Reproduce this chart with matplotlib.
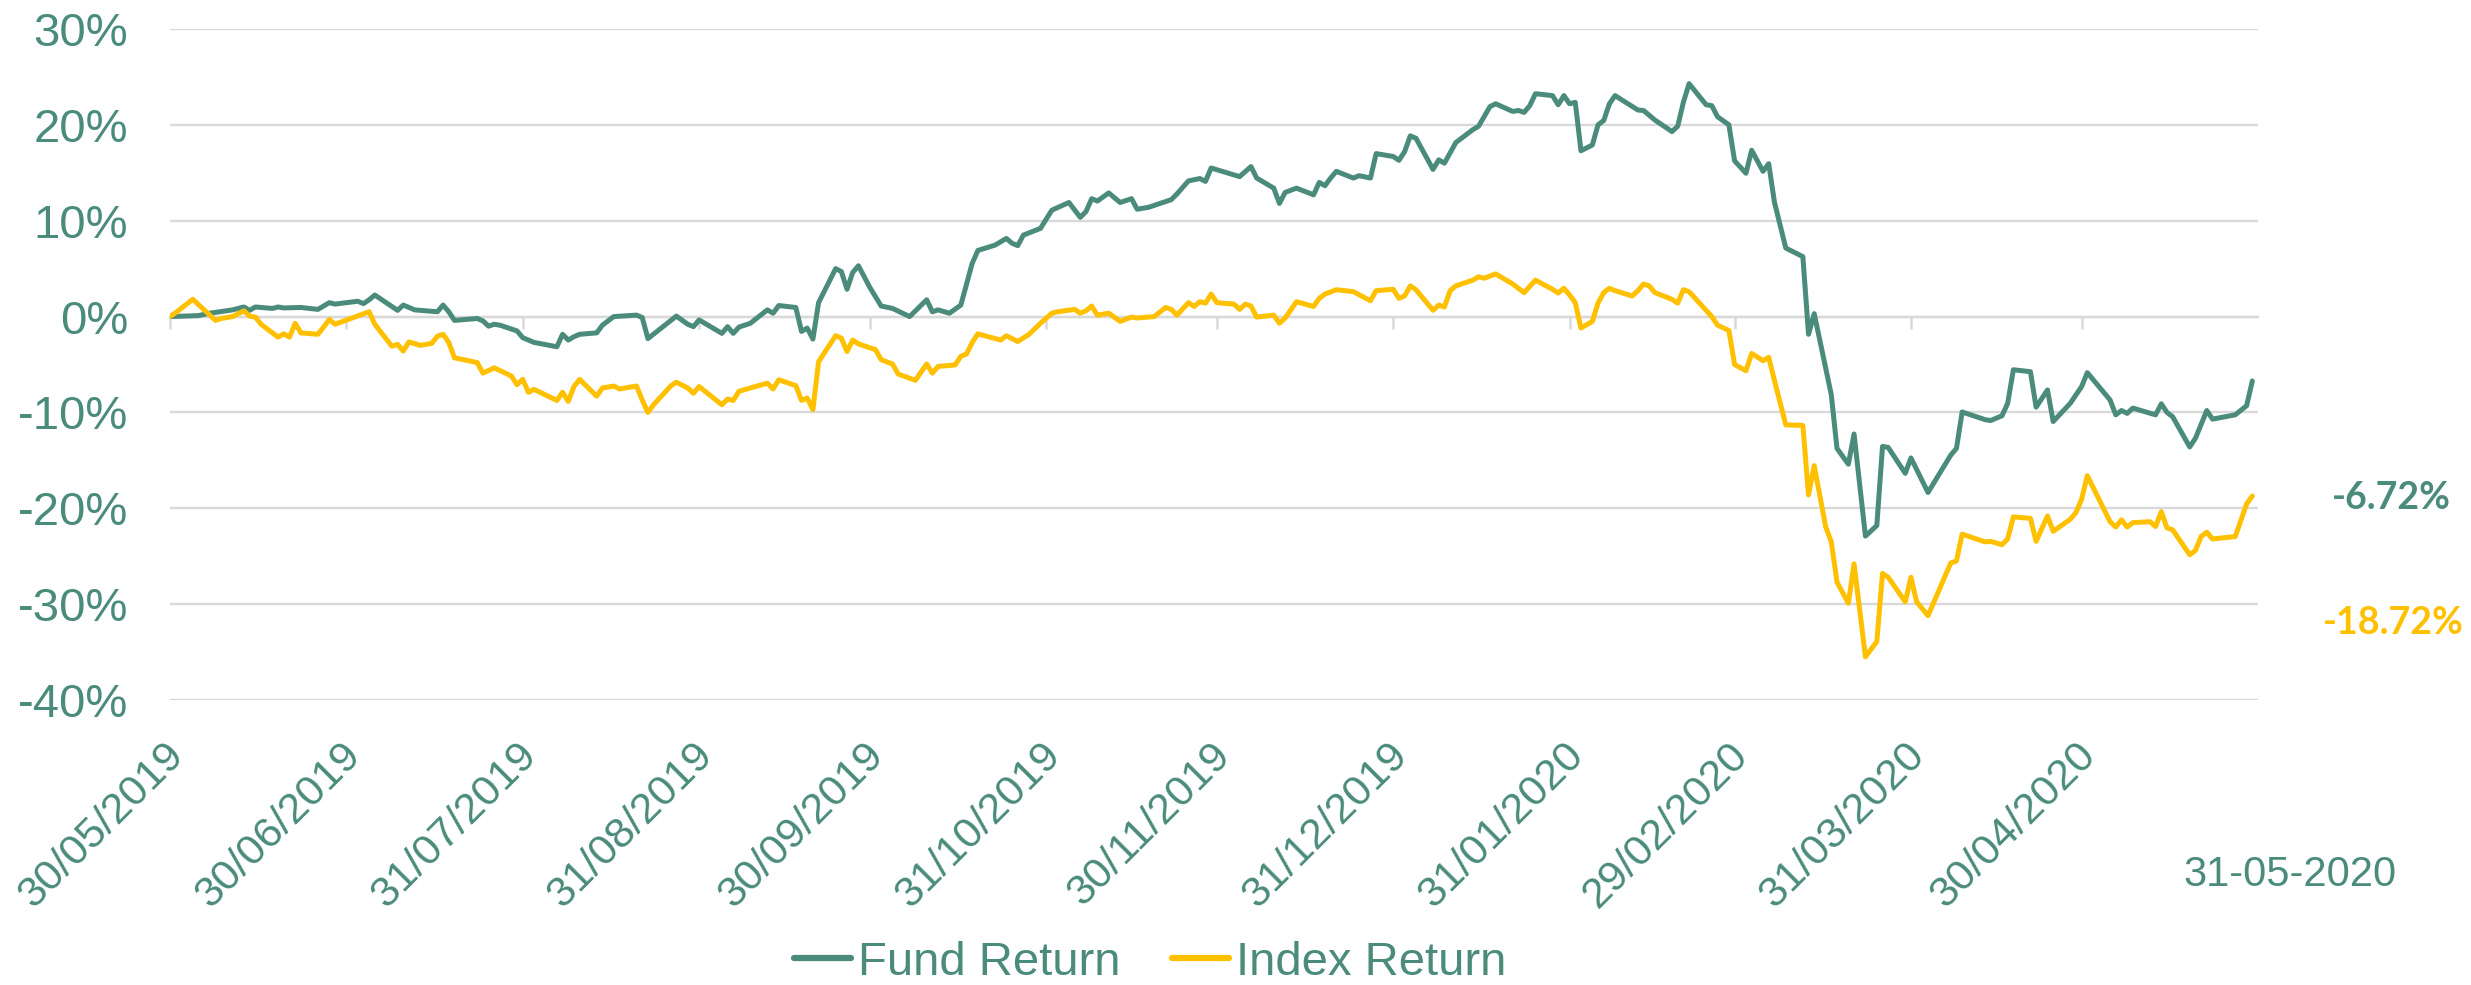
import matplotlib
matplotlib.use("Agg")
import matplotlib.pyplot as plt
import matplotlib.dates as mdates
import matplotlib.transforms as mtransforms
import pandas as pd

# ---------------- data ----------------
fund_dates = [
    "2019-05-30", "2019-06-04", "2019-06-06", "2019-06-10", "2019-06-12", "2019-06-13", "2019-06-14",
    "2019-06-17", "2019-06-18", "2019-06-19", "2019-06-22", "2019-06-25", "2019-06-27", "2019-06-28",
    "2019-07-02", "2019-07-03", "2019-07-04", "2019-07-05", "2019-07-09", "2019-07-10", "2019-07-12",
    "2019-07-16", "2019-07-17", "2019-07-18", "2019-07-19", "2019-07-23", "2019-07-24", "2019-07-25",
    "2019-07-26", "2019-07-27", "2019-07-30", "2019-07-31", "2019-08-02", "2019-08-06", "2019-08-07",
    "2019-08-08", "2019-08-09", "2019-08-10", "2019-08-13", "2019-08-14", "2019-08-16", "2019-08-20",
    "2019-08-21", "2019-08-22", "2019-08-27", "2019-08-29", "2019-08-30", "2019-08-31", "2019-09-04",
    "2019-09-05", "2019-09-06", "2019-09-07", "2019-09-09", "2019-09-12", "2019-09-13", "2019-09-14",
    "2019-09-17", "2019-09-18", "2019-09-19", "2019-09-20", "2019-09-21", "2019-09-24", "2019-09-25",
    "2019-09-26", "2019-09-27", "2019-09-28", "2019-09-30", "2019-10-02", "2019-10-04", "2019-10-07",
    "2019-10-10", "2019-10-11", "2019-10-12", "2019-10-14", "2019-10-16", "2019-10-18", "2019-10-19",
    "2019-10-22", "2019-10-24", "2019-10-25", "2019-10-26", "2019-10-27", "2019-10-30", "2019-11-01",
    "2019-11-04", "2019-11-06", "2019-11-07", "2019-11-08", "2019-11-09", "2019-11-11", "2019-11-13",
    "2019-11-15", "2019-11-16", "2019-11-18", "2019-11-20", "2019-11-22", "2019-11-23", "2019-11-25",
    "2019-11-27", "2019-11-28", "2019-11-29", "2019-12-04", "2019-12-06", "2019-12-07", "2019-12-10",
    "2019-12-11", "2019-12-12", "2019-12-14", "2019-12-17", "2019-12-18", "2019-12-19", "2019-12-20",
    "2019-12-21", "2019-12-24", "2019-12-25", "2019-12-27", "2019-12-28", "2019-12-31", "2020-01-01",
    "2020-01-02", "2020-01-03", "2020-01-04", "2020-01-07", "2020-01-08", "2020-01-09", "2020-01-11",
    "2020-01-14", "2020-01-15", "2020-01-17", "2020-01-18", "2020-01-21", "2020-01-22", "2020-01-23",
    "2020-01-24", "2020-01-25", "2020-01-28", "2020-01-29", "2020-01-30", "2020-01-31", "2020-02-01",
    "2020-02-02", "2020-02-04", "2020-02-05", "2020-02-06", "2020-02-07", "2020-02-08", "2020-02-12",
    "2020-02-13", "2020-02-15", "2020-02-18", "2020-02-19", "2020-02-20", "2020-02-21", "2020-02-24",
    "2020-02-25", "2020-02-26", "2020-02-28", "2020-02-29", "2020-03-02", "2020-03-03", "2020-03-05",
    "2020-03-06", "2020-03-07", "2020-03-09", "2020-03-12", "2020-03-13", "2020-03-14", "2020-03-17",
    "2020-03-18", "2020-03-20", "2020-03-21", "2020-03-23", "2020-03-25", "2020-03-26", "2020-03-27",
    "2020-03-30", "2020-03-31", "2020-04-03", "2020-04-07", "2020-04-08", "2020-04-09", "2020-04-13",
    "2020-04-14", "2020-04-16", "2020-04-17", "2020-04-18", "2020-04-21", "2020-04-22", "2020-04-24",
    "2020-04-25", "2020-04-28", "2020-04-30", "2020-05-01", "2020-05-05", "2020-05-06", "2020-05-07",
    "2020-05-08", "2020-05-09", "2020-05-13", "2020-05-14", "2020-05-15", "2020-05-16", "2020-05-19",
    "2020-05-20", "2020-05-22", "2020-05-23", "2020-05-27", "2020-05-29", "2020-05-30",
]
fund_values = [
    0.0, 0.1, 0.35, 0.7, 1.0, 0.65, 1.0,
    0.85, 1.0, 0.9, 0.95, 0.75, 1.45, 1.3,
    1.6, 1.35, 1.75, 2.25, 0.65, 1.2, 0.7,
    0.5, 1.2, 0.5, -0.4, -0.2, -0.45, -1.0,
    -0.8, -0.9, -1.5, -2.2, -2.7, -3.15, -1.85,
    -2.45, -2.1, -1.85, -1.7, -0.9, 0.0, 0.15,
    -0.1, -2.3, 0.05, -0.8, -1.05, -0.35, -1.75,
    -1.05, -1.75, -1.1, -0.7, 0.7, 0.35, 1.15,
    0.95, -1.55, -1.2, -2.35, 1.45, 5.0, 4.7,
    2.85, 4.6, 5.3, 3.05, 1.1, 0.85, 0.0,
    1.75, 0.5, 0.7, 0.35, 1.2, 5.55, 6.9,
    7.45, 8.15, 7.65, 7.4, 8.5, 9.2, 11.1,
    11.9, 10.35, 10.95, 12.3, 12.05, 12.9, 11.9,
    12.3, 11.2, 11.4, 11.8, 12.2, 12.8, 14.15,
    14.4, 14.1, 15.5, 14.6, 15.65, 14.45, 13.4,
    11.8, 12.95, 13.4, 12.7, 14.0, 13.65, 14.45,
    15.15, 14.45, 14.7, 14.45, 17.0, 16.7, 16.3,
    17.2, 18.85, 18.6, 15.35, 16.35, 16.0, 18.15,
    19.5, 19.85, 21.9, 22.2, 21.4, 21.5, 21.3,
    22.0, 23.25, 23.05, 22.1, 23.05, 22.2, 22.35,
    17.3, 17.9, 20.0, 20.45, 22.2, 23.05, 21.55,
    21.5, 20.5, 19.3, 19.85, 22.35, 24.3, 22.1,
    22.0, 20.85, 20.0, 16.25, 14.95, 17.35, 15.15,
    15.95, 11.95, 7.15, 6.25, -1.85, 0.3, -8.15,
    -13.75, -15.4, -12.25, -22.9, -21.8, -13.55, -13.65,
    -16.35, -14.75, -18.35, -14.45, -13.75, -9.95, -10.75,
    -10.85, -10.35, -9.05, -5.55, -5.75, -9.45, -7.65,
    -10.95, -9.05, -7.3, -5.85, -8.7, -10.25, -9.8,
    -10.1, -9.55, -10.25, -9.1, -10.0, -10.45, -13.6,
    -12.7, -9.8, -10.7, -10.25, -9.3, -6.72,
]

index_dates = [
    "2019-05-30", "2019-05-31", "2019-06-03", "2019-06-07", "2019-06-08", "2019-06-10", "2019-06-12",
    "2019-06-13", "2019-06-14", "2019-06-15", "2019-06-18", "2019-06-19", "2019-06-20", "2019-06-21",
    "2019-06-22", "2019-06-25", "2019-06-26", "2019-06-27", "2019-06-28", "2019-07-04", "2019-07-05",
    "2019-07-08", "2019-07-09", "2019-07-10", "2019-07-11", "2019-07-13", "2019-07-15", "2019-07-16",
    "2019-07-17", "2019-07-18", "2019-07-19", "2019-07-23", "2019-07-24", "2019-07-26", "2019-07-29",
    "2019-07-30", "2019-07-31", "2019-08-01", "2019-08-02", "2019-08-06", "2019-08-07", "2019-08-08",
    "2019-08-09", "2019-08-10", "2019-08-13", "2019-08-14", "2019-08-16", "2019-08-17", "2019-08-20",
    "2019-08-21", "2019-08-22", "2019-08-23", "2019-08-26", "2019-08-27", "2019-08-29", "2019-08-30",
    "2019-08-31", "2019-09-04", "2019-09-05", "2019-09-06", "2019-09-07", "2019-09-09", "2019-09-12",
    "2019-09-13", "2019-09-14", "2019-09-17", "2019-09-18", "2019-09-19", "2019-09-20", "2019-09-21",
    "2019-09-24", "2019-09-25", "2019-09-26", "2019-09-27", "2019-09-28", "2019-10-01", "2019-10-02",
    "2019-10-04", "2019-10-05", "2019-10-08", "2019-10-10", "2019-10-11", "2019-10-12", "2019-10-15",
    "2019-10-16", "2019-10-17", "2019-10-18", "2019-10-19", "2019-10-23", "2019-10-24", "2019-10-26",
    "2019-10-28", "2019-10-30", "2019-11-01", "2019-11-02", "2019-11-05", "2019-11-06", "2019-11-07",
    "2019-11-08", "2019-11-09", "2019-11-11", "2019-11-13", "2019-11-15", "2019-11-16", "2019-11-19",
    "2019-11-21", "2019-11-22", "2019-11-23", "2019-11-25", "2019-11-26", "2019-11-27", "2019-11-28",
    "2019-11-29", "2019-11-30", "2019-12-03", "2019-12-04", "2019-12-05", "2019-12-06", "2019-12-07",
    "2019-12-10", "2019-12-11", "2019-12-12", "2019-12-14", "2019-12-17", "2019-12-18", "2019-12-19",
    "2019-12-21", "2019-12-24", "2019-12-27", "2019-12-28", "2019-12-31", "2020-01-01", "2020-01-02",
    "2020-01-03", "2020-01-04", "2020-01-07", "2020-01-08", "2020-01-09", "2020-01-10", "2020-01-11",
    "2020-01-14", "2020-01-15", "2020-01-16", "2020-01-18", "2020-01-21", "2020-01-23", "2020-01-25",
    "2020-01-28", "2020-01-29", "2020-01-30", "2020-01-31", "2020-02-01", "2020-02-02", "2020-02-04",
    "2020-02-05", "2020-02-06", "2020-02-07", "2020-02-08", "2020-02-11", "2020-02-12", "2020-02-13",
    "2020-02-14", "2020-02-15", "2020-02-18", "2020-02-19", "2020-02-20", "2020-02-21", "2020-02-24",
    "2020-02-25", "2020-02-26", "2020-02-28", "2020-02-29", "2020-03-02", "2020-03-03", "2020-03-05",
    "2020-03-06", "2020-03-07", "2020-03-09", "2020-03-12", "2020-03-13", "2020-03-14", "2020-03-16",
    "2020-03-17", "2020-03-18", "2020-03-20", "2020-03-21", "2020-03-23", "2020-03-25", "2020-03-26",
    "2020-03-27", "2020-03-30", "2020-03-31", "2020-04-01", "2020-04-03", "2020-04-07", "2020-04-08",
    "2020-04-09", "2020-04-13", "2020-04-14", "2020-04-16", "2020-04-17", "2020-04-18", "2020-04-21",
    "2020-04-22", "2020-04-24", "2020-04-25", "2020-04-28", "2020-04-29", "2020-04-30", "2020-05-01",
    "2020-05-05", "2020-05-06", "2020-05-07", "2020-05-08", "2020-05-09", "2020-05-12", "2020-05-13",
    "2020-05-14", "2020-05-15", "2020-05-16", "2020-05-19", "2020-05-20", "2020-05-21", "2020-05-22",
    "2020-05-23", "2020-05-27", "2020-05-29", "2020-05-30",
]
index_values = [
    0.0, 0.4, 1.8, -0.4, -0.2, 0.0, 0.6,
    0.05, -0.05, -0.8, -2.15, -1.8, -2.15, -0.7,
    -1.7, -1.85, -1.1, -0.3, -0.8, 0.5, -0.8,
    -3.1, -2.9, -3.6, -2.65, -3.0, -2.8, -2.05,
    -1.85, -2.7, -4.3, -4.8, -5.9, -5.35, -6.2,
    -7.1, -6.55, -7.9, -7.6, -8.75, -7.9, -8.85,
    -7.3, -6.55, -8.3, -7.45, -7.25, -7.55, -7.25,
    -8.7, -10.0, -9.2, -7.25, -6.85, -7.45, -8.0,
    -7.3, -9.2, -8.6, -8.75, -7.8, -7.45, -6.95,
    -7.55, -6.6, -7.2, -8.75, -8.5, -9.7, -4.7,
    -2.0, -2.25, -3.65, -2.45, -2.85, -3.45, -4.5,
    -4.95, -6.0, -6.65, -4.95, -5.9, -5.2, -5.05,
    -4.15, -3.9, -2.7, -1.8, -2.45, -2.0, -2.6,
    -1.85, -0.7, 0.35, 0.5, 0.75, 0.35, 0.6,
    1.1, 0.15, 0.35, -0.5, -0.05, -0.15, 0.0,
    0.95, 0.75, 0.15, 1.45, 1.05, 1.55, 1.4,
    2.35, 1.45, 1.3, 0.75, 1.3, 1.1, -0.05,
    0.15, -0.7, -0.15, 1.55, 1.05, 1.9, 2.35,
    2.8, 2.6, 1.65, 2.7, 2.85, 1.9, 2.15,
    3.2, 2.8, 0.65, 1.2, 1.0, 2.7, 3.2,
    3.8, 4.15, 4.0, 4.45, 3.4, 2.5, 3.8,
    2.85, 2.45, 2.95, 2.25, 1.45, -1.2, -0.5,
    1.4, 2.5, 2.95, 2.7, 2.15, 2.7, 3.4,
    3.2, 2.5, 1.8, 1.4, 2.8, 2.6, 0.65,
    0.0, -0.9, -1.45, -5.0, -5.65, -3.85, -4.6,
    -4.25, -6.65, -11.3, -11.35, -18.6, -15.55, -21.9,
    -23.5, -27.7, -29.9, -25.8, -35.5, -33.9, -26.8,
    -27.2, -29.75, -27.2, -29.75, -31.2, -25.7, -25.5,
    -22.7, -23.5, -23.45, -23.8, -23.2, -20.9, -21.05,
    -23.45, -20.8, -22.4, -21.15, -20.45, -19.05, -16.6,
    -21.4, -21.95, -21.2, -21.95, -21.5, -21.4, -21.9,
    -20.35, -22.05, -22.25, -24.85, -24.4, -22.95, -22.5,
    -23.2, -22.95, -19.55, -18.72,
]

tick_dates = ["2019-05-30", "2019-06-30", "2019-07-31", "2019-08-31", "2019-09-30", "2019-10-31",
              "2019-11-30", "2019-12-31", "2020-01-31", "2020-02-29", "2020-03-31", "2020-04-30"]
tick_labels = ["30/05/2019", "30/06/2019", "31/07/2019", "31/08/2019", "30/09/2019", "31/10/2019",
               "30/11/2019", "31/12/2019", "31/01/2020", "29/02/2020", "31/03/2020", "30/04/2020"]
y_ticks = [-40, -30, -20, -10, 0, 10, 20, 30]
x_start, x_end = "2019-05-30", "2020-05-31"
end_date_label = "31-05-2020"
fund_final_label = "-6.72%"
index_final_label = "-18.72%"
series_names = ["Fund Return", "Index Return"]

# ---------------- style ----------------
TEAL = "#4A8B7B"
GOLD = "#FFC000"
GRID = "#D9D9D9"
FONT = ["Liberation Sans", "DejaVu Sans"]
plt.rcParams["font.family"] = FONT

W, H = 2471, 985
fig = plt.figure(figsize=(W / 100, H / 100), dpi=100)
left, right, top, bottom = 170, 2258, 29, 700
ax = fig.add_axes([left / W, 1 - bottom / H, (right - left) / W, (bottom - top) / H])

fx = pd.to_datetime(fund_dates)
ix = pd.to_datetime(index_dates)
l1, = ax.plot(fx, fund_values, color=TEAL, lw=3.6, solid_joinstyle="round",
              solid_capstyle="round", label=series_names[0], zorder=3)
l2, = ax.plot(ix, index_values, color=GOLD, lw=3.6, solid_joinstyle="round",
              solid_capstyle="round", label=series_names[1], zorder=4)

ax.set_xlim(pd.Timestamp(x_start), pd.Timestamp(x_end))
ax.set_ylim(-40, 30)
ax.set_yticks(y_ticks)
ax.set_yticklabels([f"{v}%" for v in y_ticks])
ax.yaxis.grid(True, color=GRID, lw=1.7)
ax.set_axisbelow(True)
ax.tick_params(axis="y", length=0, pad=30, labelsize=34, labelcolor=TEAL)

for s in ["top", "right", "left"]:
    ax.spines[s].set_visible(False)
ax.spines["bottom"].set_position(("data", 0))
ax.spines["bottom"].set_color(GRID)
ax.spines["bottom"].set_linewidth(1.7)

tick_nums = mdates.date2num(pd.to_datetime(tick_dates))
ax.set_xticks(tick_nums)
ax.tick_params(axis="x", direction="out", length=8.5, width=1.8, color=GRID, labelbottom=False)

offset = mtransforms.ScaledTranslation(0.08, -0.49, fig.dpi_scale_trans)
trans = mtransforms.blended_transform_factory(ax.transData, ax.transAxes) + offset
for xn, lab in zip(tick_nums, tick_labels):
    ax.text(xn, 0, lab, transform=trans, rotation=45, rotation_mode="anchor",
            ha="right", va="center", fontsize=31, color=TEAL, clip_on=False)

fig.text(2290 / W, 1 - 875 / H, end_date_label, ha="center", va="center",
         fontsize=30, color=TEAL)
fig.text(2391 / W, 1 - 498 / H, fund_final_label, ha="center", va="center",
         fontsize=27, color=TEAL, fontweight="bold", family=["Lato", "DejaVu Sans"])
fig.text(2393 / W, 1 - 623 / H, index_final_label, ha="center", va="center",
         fontsize=27, color=GOLD, fontweight="bold", family=["Lato", "DejaVu Sans"])

leg = fig.legend(handles=[l1, l2], loc="center", bbox_to_anchor=(1150 / W, 1 - 963 / H),
                 ncol=2, frameon=False, fontsize=34, handlelength=1.2,
                 handletextpad=0.15, columnspacing=1.1)
for t in leg.get_texts():
    t.set_color(TEAL)
for lh in leg.get_lines():
    lh.set_linewidth(4.5)

fig.savefig("out.png", dpi=100)
